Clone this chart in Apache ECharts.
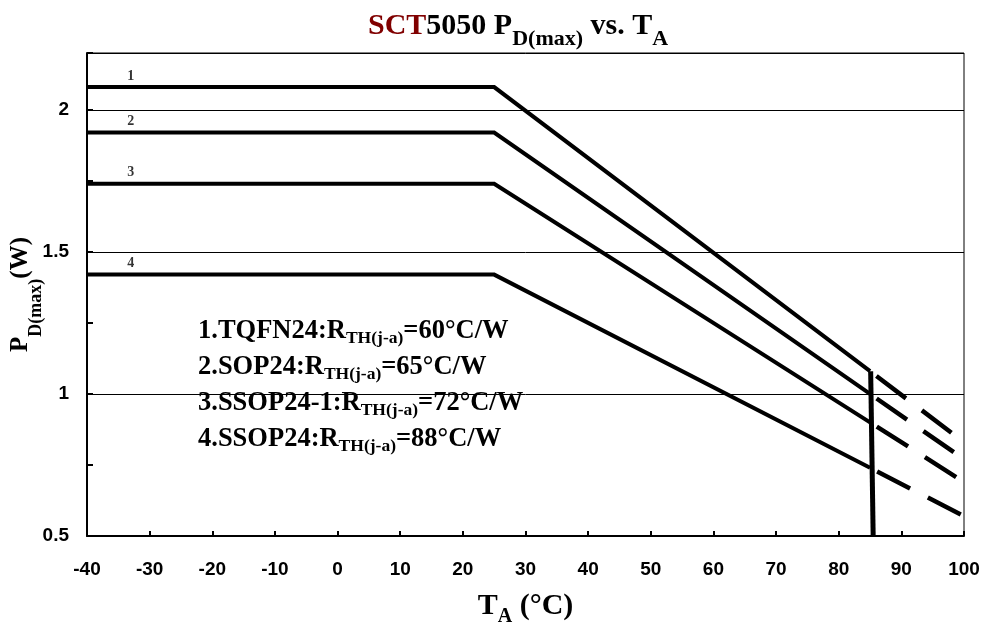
<!DOCTYPE html>
<html>
<head>
<meta charset="utf-8">
<script src="https://cdn.jsdelivr.net/npm/echarts@6/dist/echarts.min.js"></script>
<style>
html,body{margin:0;padding:0;background:#fff;}
#c{width:983px;height:623px;}
</style>
</head>
<body>
<div id="c"></div>
<script>
// ---- data ----
const xTicks = [-40, -30, -20, -10, 0, 10, 20, 30, 40, 50, 60, 70, 80, 90, 100];
const yTickLabels = ['0.5', '1', '1.5', '2'];
const curveNames = ['1', '2', '3', '4'];
const packages = ['TQFN24', 'SOP24', 'SSOP24-1', 'SSOP24'];
const rthValues = [60, 65, 72, 88];

const tSolid = [-40, 25, 85];
const pd1 = [2.08, 2.08, 1.08];
const pd2 = [1.92, 1.92, 1.00];
const pd3 = [1.74, 1.74, 0.90];
const pd4 = [1.42, 1.42, 0.74];

const tDash = [85, 100];
const pd1Dash = [1.08, 0.83];
const pd2Dash = [1.00, 0.77];
const pd3Dash = [0.90, 0.69];
const pd4Dash = [0.74, 0.57];

const tCutoff = [85.1, 85.5];
const pdCutoff = [1.08, 0.50];

const labelT = -33;

// ---- build ----
const zip = (xs, ys) => xs.map((x, i) => [x, ys[i]]);
const solidSets = [pd1, pd2, pd3, pd4];
const dashSets = [pd1Dash, pd2Dash, pd3Dash, pd4Dash];

const SERIF = '"Liberation Serif","Times New Roman",serif';
const SANS = '"Liberation Sans",Arial,sans-serif';

const series = [];
solidSets.forEach((pd, i) => {
  series.push({
    type: 'line', data: zip(tSolid, pd), symbol: 'none', silent: true,
    lineStyle: { color: '#000', width: 4, join: 'miter' }, z: 3
  });
});
dashSets.forEach((pd, i) => {
  series.push({
    type: 'line', data: zip(tDash, pd), symbol: 'none', silent: true,
    lineStyle: { color: '#000', width: 4.5, type: [37, 20], dashOffset: 49, cap: 'butt' }, z: 3
  });
});
series.push({
  type: 'line', data: zip(tCutoff, pdCutoff), symbol: 'none', silent: true,
  lineStyle: { color: '#000', width: 5 }, z: 4
});
series.push({
  type: 'scatter', symbolSize: 0, silent: true,
  data: solidSets.map((pd, i) => ({ value: [labelT, pd[0]], name: curveNames[i] })),
  label: {
    show: true, position: 'top', distance: 4, formatter: p => p.name,
    fontFamily: SERIF, fontWeight: 'bold', fontSize: 14, color: '#000'
  }
});

const legendText = packages.map((p, i) =>
  `{m|${curveNames[i]}.${p}:R}{s|TH(j-a)}{m|=${rthValues[i]}°C/W}`).join('\n');

const chart = echarts.init(document.getElementById('c'), null, { renderer: 'canvas' });
chart.setOption({
  backgroundColor: '#fff',
  animation: false,
  title: [
    {
      text: '{r|SCT}{b|5050 P}{s|D(max)}{b| vs. T}{s|A}',
      left: 368, top: 11, padding: 0,
      textStyle: {
        rich: {
          r: { fontFamily: SERIF, fontWeight: 'bold', fontSize: 30, lineHeight: 30, color: '#800000' },
          b: { fontFamily: SERIF, fontWeight: 'bold', fontSize: 30, lineHeight: 30, color: '#000' },
          s: { fontFamily: SERIF, fontWeight: 'bold', fontSize: 22, lineHeight: 22, color: '#000', padding: [26, 0, 0, 0] }
        }
      }
    },
    {
      text: legendText,
      left: 198, top: 313, padding: 0,
      textStyle: {
        rich: {
          m: { fontFamily: SERIF, fontWeight: 'bold', fontSize: 26.5, lineHeight: 36, color: '#000' },
          s: { fontFamily: SERIF, fontWeight: 'bold', fontSize: 17.5, lineHeight: 17, color: '#000', padding: [15, 0, 0, 0] }
        }
      }
    }
  ],
  grid: { left: 87, right: 19, top: 53, bottom: 87, outerBoundsMode: 'none', containLabel: false, show: true, borderColor: '#000', borderWidth: 1, backgroundColor: 'transparent' },
  xAxis: {
    type: 'value', min: xTicks[0], max: xTicks[xTicks.length - 1], interval: 10,
    axisLine: { show: true, onZero: false, lineStyle: { color: '#000', width: 2 } },
    axisTick: { show: true, inside: true, length: 5, lineStyle: { color: '#000', width: 2 } },
    axisLabel: { margin: 24, fontFamily: SANS, fontWeight: 'bold', fontSize: 19, color: '#000' },
    splitLine: { show: false },
    name: '{m|T}{s|A}{m| (°C)}', nameLocation: 'middle', nameGap: 55, nameMoveOverlap: false,
    nameTextStyle: {
      rich: {
        m: { fontFamily: SERIF, fontWeight: 'bold', fontSize: 30, lineHeight: 30, color: '#000' },
        s: { fontFamily: SERIF, fontWeight: 'bold', fontSize: 20, lineHeight: 20, color: '#000', padding: [21, 0, 0, 0] }
      }
    }
  },
  yAxis: [
    {
      type: 'value', min: 0.5, max: 2.2, interval: 0.5,
      axisLine: { show: true, onZero: false, lineStyle: { color: '#000', width: 2 } },
      axisTick: { show: false },
      axisLabel: {
        margin: 18, fontFamily: SANS, fontWeight: 'bold', fontSize: 19, color: '#000',
        formatter: v => { const s = String(+v.toFixed(2)); return yTickLabels.indexOf(s) >= 0 ? s : ''; }
      },
      splitLine: { show: true, lineStyle: { color: '#000', width: 1 } },
      name: '{m|P}{s|D(max)}{m|(W)}', nameLocation: 'middle', nameGap: 54, nameMoveOverlap: false,
      nameTextStyle: {
        rich: {
          m: { fontFamily: SERIF, fontWeight: 'bold', fontSize: 25, lineHeight: 25, color: '#000' },
          s: { fontFamily: SERIF, fontWeight: 'bold', fontSize: 18, lineHeight: 18, color: '#000', padding: [31, 0, 0, 0] }
        }
      }
    },
    {
      type: 'value', min: 0.5, max: 2.2, interval: 0.25, position: 'left',
      axisLine: { show: false, onZero: false },
      axisTick: { show: true, inside: true, length: 6, lineStyle: { color: '#000', width: 2 } },
      axisLabel: { show: false },
      splitLine: { show: false }
    }
  ],
  series: series
});
</script>
</body>
</html>
